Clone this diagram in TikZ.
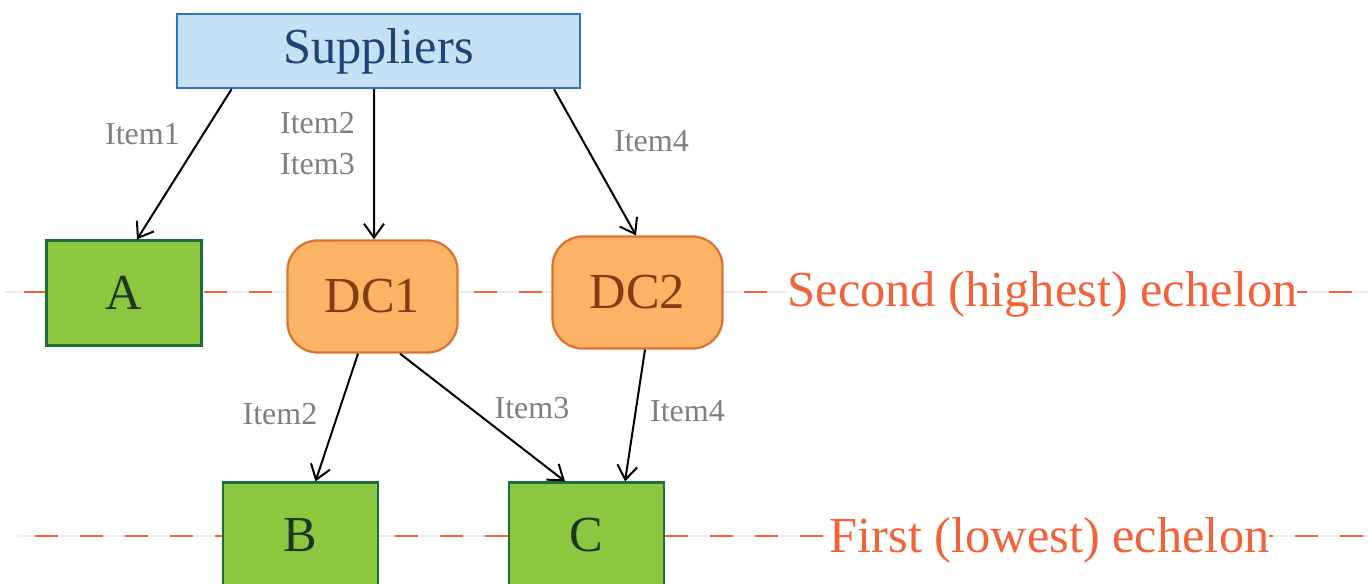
\documentclass[tikz,border=0pt]{standalone}
\usepackage{fontspec}
\setmainfont{Liberation Serif}
\usetikzlibrary{arrows.meta,positioning}

\definecolor{supfill}{HTML}{C6E1F5}
\definecolor{supline}{HTML}{2E75B6}
\definecolor{suptext}{HTML}{1F4375}
\definecolor{grfill}{HTML}{8DC63F}
\definecolor{grline}{HTML}{1E6E3C}
\definecolor{grtext}{HTML}{1E361E}
\definecolor{dcfill}{HTML}{FBB466}
\definecolor{dcline}{HTML}{DE7233}
\definecolor{dctext}{HTML}{843C12}
\definecolor{echcol}{HTML}{F4623A}
\definecolor{itemcol}{HTML}{7F7F7F}
\definecolor{gridcol}{HTML}{ECECEC}

\begin{document}
\begin{tikzpicture}
  [
   x=0.2mm,y=-0.2mm,
   big/.style={font=\fontsize{28.7}{34}\selectfont},
   sn/.style={rectangle,line width=0.5mm,draw=supline,fill=supfill,text=suptext,inner sep=0pt,minimum width=80.6mm,minimum height=14.8mm,big},
   gn/.style={rectangle,line width=0.45mm,draw=grline,fill=grfill,text=grtext,inner sep=0pt,minimum width=31mm,minimum height=21mm,big},
   dn/.style={rectangle,rounded corners=6mm,line width=0.45mm,draw=dcline,fill=dcfill,text=dctext,inner sep=0pt,minimum width=34mm,minimum height=22.4mm,big},
   it/.style={font=\fontsize{18.2}{23.3}\selectfont,text=itemcol,inner sep=0pt,anchor=base},
   ech/.style={big,text=echcol,fill=white,inner xsep=0pt,inner ysep=1pt,anchor=base},
   lvl/.style={line width=0.55mm,draw=echcol,dash pattern=on 4.6mm off 4.4mm},
   arr/.style={line width=0.4mm,-{Straight Barb[length=2.8mm,width=4mm]}}
  ]
   \useasboundingbox (0,0) rectangle (1368,584);

   % echelon guide lines
   \draw[gridcol,line width=0.3mm] (5,292) -- (1368,292);
   \draw[lvl] (24,292) -- (1368,292);
   \draw[gridcol,line width=0.3mm] (17,536) -- (1368,536);
   \draw[lvl] (35,536) -- (1368,536);

   \node[sn] (sup) at (378.5,51)    {Suppliers};
   \node[gn] (a)   at (124,293)     {A};
   \node[dn] (dc1) at (372.5,296.5) {DC1};
   \node[dn] (dc2) at (637.5,292.5) {DC2};
   \node[gn] (b)   at (300.5,535)   {B};
   \node[gn] (c)   at (586.5,535)   {C};

   \node[ech] (e2) at (1042.5,306) {Second (highest) echelon};
   \node[ech] (e1) at (1049.5,552) {First (lowest) echelon};

   \node[it] (i1)  at (142.5,144) {Item1};
   \node[it,anchor=center,align=center] (i23) at (317.5,143.7) {Item2\\Item3};
   \node[it] (i4)  at (651.5,152) {Item4};
   \node[it] (i2b) at (280,424)   {Item2};
   \node[it] (i3b) at (532,418)   {Item3};
   \node[it] (i4b) at (687.5,421) {Item4};

   \draw[arr] ([xshift=-29.4mm]sup.south) -- ([xshift=2.6mm]a.north);
   \draw[arr] ([xshift=-0.9mm]sup.south) -- ([xshift=0.3mm]dc1.north);
   \draw[arr] ([xshift=35.1mm]sup.south) -- ([xshift=-0.3mm]dc2.north);
   \draw[arr] ([xshift=-2.9mm]dc1.south) -- ([xshift=3mm]b.north);
   \draw[arr] ([xshift=5.5mm]dc1.south) -- ([xshift=-4.3mm]c.north);
   \draw[arr] ([xshift=1.5mm]dc2.south) -- ([xshift=7.7mm]c.north);

\end{tikzpicture}
\end{document}
